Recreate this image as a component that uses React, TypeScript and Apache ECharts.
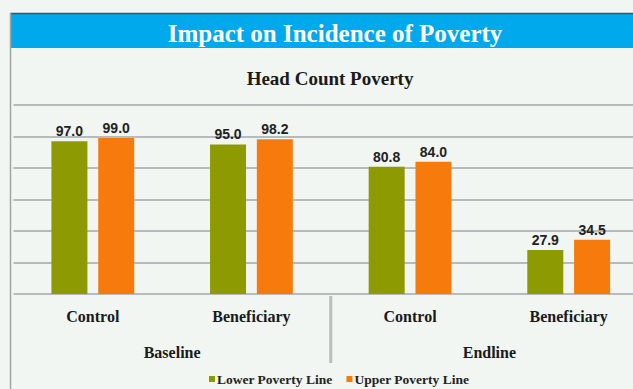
import React, { useEffect, useRef } from "react";
import * as echarts from "echarts";

const categories = ["Control", "Beneficiary", "Control", "Beneficiary"];
const periods = ["Baseline", "Endline"];
const lowerPovertyLine = [97.0, 95.0, 80.8, 27.9];
const upperPovertyLine = [99.0, 98.2, 84.0, 34.5];
const seriesNames = ["Lower Poverty Line", "Upper Poverty Line"];
const titleText = "Impact on Incidence of Poverty";
const subtitleText = "Head Count Poverty";

// The plot runs past the right edge of the frame, as in the reference.
const VIEW_W = 633;
const CANVAS_W = 652;
const H = 389;
const GRID_LEFT = 13.5;
const GRID_TOP = 105;
const GRID_WIDTH = 634.5;
const GRID_HEIGHT = 189;

const SERIF = "'Liberation Serif', 'DejaVu Serif', serif";

export default function App() {
  const ref = useRef<HTMLDivElement>(null);
  useEffect(() => {
    document.body.style.margin = "0";
    const chart = echarts.init(ref.current!, null, { renderer: "svg" });
    const dividerX = GRID_LEFT + GRID_WIDTH / 2;
    const labelStyle = {
      show: true,
      position: "top" as const,
      distance: 3,
      fontFamily: "'Liberation Sans', Arial, sans-serif",
      fontWeight: "bold" as const,
      fontSize: 14,
      color: "#222",
      formatter: (p: any) => Number(p.value).toFixed(1),
    };
    chart.setOption({
      animation: false,
      backgroundColor: "#f1f6f2",
      title: [
        {
          text: titleText,
          left: 330,
          top: 16,
          textAlign: "center",
          textStyle: { color: "#ffffff", fontFamily: SERIF, fontWeight: "bold", fontSize: 25 },
        },
        {
          text: subtitleText,
          left: 325,
          top: 64,
          textAlign: "center",
          textStyle: { color: "#1a1a1a", fontFamily: SERIF, fontWeight: "bold", fontSize: 19 },
        },
      ],
      graphic: [
        {
          type: "rect",
          z: 0,
          shape: { x: 10, y: 13, width: CANVAS_W, height: 35 },
          style: { fill: "#00a9ec" },
        },
        {
          type: "line",
          z: 1,
          shape: { x1: 10, y1: 13.5, x2: CANVAS_W, y2: 13.5 },
          style: { stroke: "#2a5f70", lineWidth: 1.5 },
        },
        {
          type: "line",
          z: 1,
          shape: { x1: 10.5, y1: 13, x2: 10.5, y2: H },
          style: { stroke: "#9ea6a6", lineWidth: 1.5 },
        },
        {
          type: "line",
          z: 1,
          shape: {
            x1: dividerX,
            y1: GRID_TOP + GRID_HEIGHT + 2,
            x2: dividerX,
            y2: GRID_TOP + GRID_HEIGHT + 69,
          },
          style: { stroke: "#b9bdbe", lineWidth: 3 },
        },
      ],
      legend: {
        left: 204,
        top: 367,
        itemWidth: 6,
        itemHeight: 6,
        itemGap: 14,
        icon: "rect",
        data: seriesNames,
        textStyle: { fontFamily: SERIF, fontWeight: "bold", fontSize: 13.5, color: "#222", padding: [0, 0, 0, -3] },
      },
      grid: { left: GRID_LEFT, top: GRID_TOP, width: GRID_WIDTH, height: GRID_HEIGHT },
      xAxis: [
        {
          type: "category",
          data: categories,
          axisLine: { show: false },
          axisTick: { show: false },
          axisLabel: {
            margin: 14,
            fontFamily: SERIF,
            fontWeight: "bold",
            fontSize: 16,
            color: "#1a1a1a",
          },
        },
        {
          type: "category",
          data: periods,
          position: "bottom",
          offset: 37,
          axisLine: { show: false },
          axisTick: { show: false },
          axisLabel: {
            margin: 13,
            fontFamily: SERIF,
            fontWeight: "bold",
            fontSize: 16,
            color: "#1a1a1a",
          },
        },
      ],
      yAxis: {
        type: "value",
        min: 0,
        max: 120,
        interval: 20,
        axisLabel: { show: false },
        axisLine: { show: false },
        axisTick: { show: false },
        splitLine: { lineStyle: { color: "#b7bbbc", width: 2 } },
      },
      series: [
        {
          name: seriesNames[0],
          type: "bar",
          data: lowerPovertyLine,
          barWidth: 36,
          barGap: "30%",
          itemStyle: { color: "#8d9a02" },
          label: labelStyle,
        },
        {
          name: seriesNames[1],
          type: "bar",
          data: upperPovertyLine,
          barWidth: 36,
          barGap: "30%",
          itemStyle: { color: "#f77b0c" },
          label: labelStyle,
        },
      ],
    });
    return () => chart.dispose();
  }, []);
  return (
    <div style={{ width: VIEW_W, height: H, overflow: "hidden" }}>
      <div ref={ref} style={{ width: CANVAS_W, height: H }} />
    </div>
  );
}
